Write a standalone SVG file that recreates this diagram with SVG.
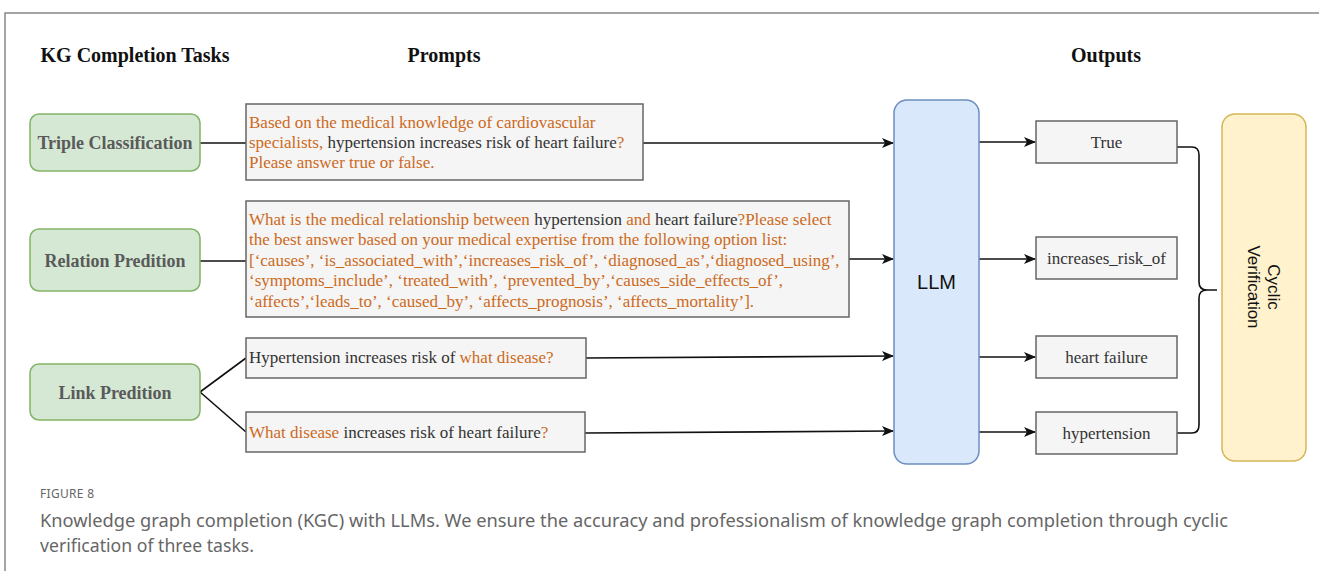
<svg xmlns="http://www.w3.org/2000/svg" width="1319" height="571" viewBox="0 0 1319 571">
  <style>
    .hdr { font-family: "Liberation Serif", serif; font-weight: bold; font-size: 20px; fill: #111; text-anchor: middle; }
    .task rect { fill: #d5e8d4; stroke: #82b366; stroke-width: 1.5; }
    .task text { font-family: "Liberation Serif", serif; font-weight: bold; font-size: 18px; fill: #5a5a5a; text-anchor: middle; dominant-baseline: central; }
    .prompt rect, .out rect { fill: #f5f5f5; stroke: #666; stroke-width: 1.5; }
    .prompt text { font-family: "Liberation Serif", serif; font-size: 17px; fill: #cc6a1c; }
    .dk { fill: #333; }
    .out text { font-family: "Liberation Serif", serif; font-size: 17px; fill: #333; text-anchor: middle; dominant-baseline: central; }
    .edge { fill: none; stroke: #111; stroke-width: 1.6; }
    .cap { font-family: "Noto Sans", sans-serif; fill: #666; }
  </style>
  <defs>
    <marker id="arrow" viewBox="0 0 12 10" refX="11" refY="5" markerWidth="12" markerHeight="10" markerUnits="userSpaceOnUse" orient="auto">
      <path d="M0,0 L12,5 L0,10 L3,5 Z" fill="#111"/>
    </marker>
  </defs>

  <!-- outer frame -->
  <path d="M5,571 V13 H1319" fill="none" stroke="#888" stroke-width="1.5"/>

  <!-- column headers -->
  <text class="hdr" x="135" y="62">KG Completion Tasks</text>
  <text class="hdr" x="444" y="62">Prompts</text>
  <text class="hdr" x="1106" y="62">Outputs</text>

  <!-- connectors -->
  <g id="connectors">
    <line class="edge" x1="200" y1="143" x2="246" y2="143"/>
    <line class="edge" x1="643" y1="143" x2="893" y2="143" marker-end="url(#arrow)"/>
    <line class="edge" x1="200" y1="261" x2="246" y2="261"/>
    <line class="edge" x1="849" y1="259" x2="893" y2="259" marker-end="url(#arrow)"/>
    <line class="edge" x1="200" y1="392" x2="246" y2="358"/>
    <line class="edge" x1="200" y1="392" x2="246" y2="432"/>
    <line class="edge" x1="586" y1="358" x2="893" y2="356" marker-end="url(#arrow)"/>
    <line class="edge" x1="585" y1="433" x2="893" y2="431" marker-end="url(#arrow)"/>
    <line class="edge" x1="979" y1="142" x2="1035" y2="142" marker-end="url(#arrow)"/>
    <line class="edge" x1="979" y1="259" x2="1035" y2="259" marker-end="url(#arrow)"/>
    <line class="edge" x1="979" y1="357" x2="1035" y2="357" marker-end="url(#arrow)"/>
    <line class="edge" x1="979" y1="432" x2="1035" y2="432" marker-end="url(#arrow)"/>
    <!-- curly brace gathering the outputs -->
    <path class="edge" stroke-width="1.4" d="M1177,147 H1192 Q1199,147 1199,155 V282 Q1199,290 1207,290 H1217 M1207,290 Q1199,290 1199,298 V425 Q1199,433 1192,433 H1177"/>
  </g>

  <!-- task nodes -->
  <g id="task-triple" class="task">
    <rect x="30" y="114" width="170" height="57" rx="9"/>
    <text x="115" y="143">Triple Classification</text>
  </g>
  <g id="task-relation" class="task">
    <rect x="30" y="229" width="170" height="62" rx="9"/>
    <text x="115" y="261">Relation Predition</text>
  </g>
  <g id="task-link" class="task">
    <rect x="30" y="364" width="170" height="56" rx="9"/>
    <text x="115" y="393">Link Predition</text>
  </g>

  <!-- prompt nodes -->
  <g id="prompt-triple" class="prompt">
    <rect x="246" y="104" width="397" height="76"/>
    <text x="249" y="128">Based on the medical knowledge of cardiovascular</text>
    <text x="249" y="148">specialists, <tspan class="dk">hypertension increases risk of heart failure</tspan>?</text>
    <text x="249" y="168">Please answer true or false.</text>
  </g>
  <g id="prompt-relation" class="prompt">
    <rect x="246" y="201" width="603" height="116"/>
    <text x="249" y="225">What is the medical relationship between <tspan class="dk">hypertension</tspan> and <tspan class="dk">heart failure</tspan>?Please select</text>
    <text x="249" y="245">the best answer based on your medical expertise from the following option list:</text>
    <text x="249" y="266">[‘causes’, ‘is_associated_with’,‘increases_risk_of’, ‘diagnosed_as’,‘diagnosed_using’,</text>
    <text x="249" y="286">‘symptoms_include’, ‘treated_with’, ‘prevented_by’,‘causes_side_effects_of’,</text>
    <text x="249" y="307">‘affects’,‘leads_to’, ‘caused_by’, ‘affects_prognosis’, ‘affects_mortality’].</text>
  </g>
  <g id="prompt-link-tail" class="prompt">
    <rect x="246" y="338" width="340" height="40"/>
    <text x="249" y="363"><tspan class="dk">Hypertension increases risk of </tspan>what disease?</text>
  </g>
  <g id="prompt-link-head" class="prompt">
    <rect x="246" y="412" width="339" height="40"/>
    <text x="249" y="438">What disease<tspan class="dk"> increases risk of heart failure</tspan>?</text>
  </g>

  <!-- model -->
  <g id="llm">
    <rect x="894" y="100" width="85" height="364" rx="13" fill="#dae8fc" stroke="#6c8ebf" stroke-width="1.5"/>
    <text x="936.5" y="282" font-family="Liberation Sans, sans-serif" font-size="20" fill="#111" text-anchor="middle" dominant-baseline="central">LLM</text>
  </g>

  <!-- output nodes -->
  <g id="out-true" class="out">
    <rect x="1036" y="121" width="141" height="42"/>
    <text x="1106.5" y="142">True</text>
  </g>
  <g id="out-relation" class="out">
    <rect x="1036" y="237" width="141" height="42"/>
    <text x="1106.5" y="258">increases_risk_of</text>
  </g>
  <g id="out-tail" class="out">
    <rect x="1036" y="336" width="141" height="42"/>
    <text x="1106.5" y="357">heart failure</text>
  </g>
  <g id="out-head" class="out">
    <rect x="1036" y="412" width="141" height="42"/>
    <text x="1106.5" y="433">hypertension</text>
  </g>

  <!-- verification -->
  <g id="cyclic-verification">
    <rect x="1222" y="114" width="84" height="347" rx="13" fill="#fff2cc" stroke="#d6b656" stroke-width="1.5"/>
    <g transform="translate(1264,287) rotate(90)" font-family="Liberation Sans, sans-serif" font-size="17" fill="#111" text-anchor="middle">
      <text x="0" y="-4">Cyclic</text>
      <text x="0" y="16">Verification</text>
    </g>
  </g>

  <!-- caption -->
  <text class="cap" x="40" y="498" font-size="12" letter-spacing="0.3">FIGURE 8</text>
  <text class="cap" x="40" y="527" font-size="18" textLength="1188" lengthAdjust="spacingAndGlyphs">Knowledge graph completion (KGC) with LLMs. We ensure the accuracy and professionalism of knowledge graph completion through cyclic</text>
  <text class="cap" x="40" y="552" font-size="18" textLength="214" lengthAdjust="spacingAndGlyphs">verification of three tasks.</text>
</svg>
